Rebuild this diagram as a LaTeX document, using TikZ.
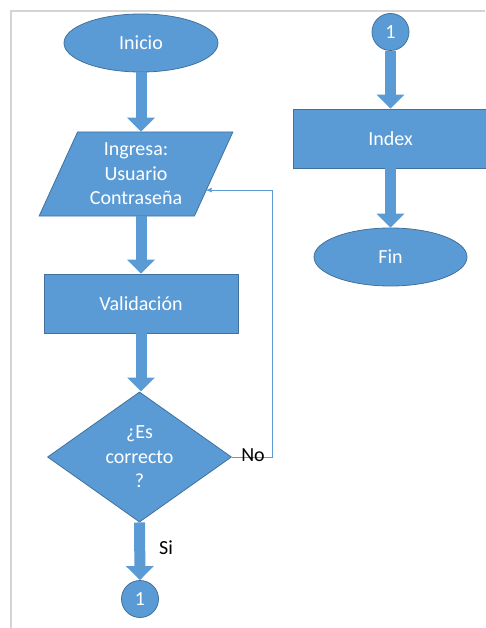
\documentclass[tikz,border=0pt]{standalone}
\usepackage{fontspec}
\setmainfont{Carlito}
\usepackage{tikz}
\usetikzlibrary{arrows,arrows.meta}
\usetikzlibrary{shapes,shapes.geometric}
\usetikzlibrary{positioning}
\usetikzlibrary{calc}
\definecolor{boxblue}{HTML}{5B9BD5}
\definecolor{boxline}{HTML}{41719C}
\definecolor{framegray}{HTML}{D4D4D4}
\tikzset{
    >=stealth',
    shapebase/.style={draw=boxline, fill=boxblue, line width=0.8pt, text=white,
        inner sep=0pt, align=center, font=\fontsize{20}{24.6}\selectfont},
    terminal/.style={shapebase, ellipse, minimum width=154pt, minimum height=58pt},
    process/.style={shapebase, rectangle, minimum width=194pt, minimum height=59pt},
    inout/.style={shapebase, trapezium, trapezium left angle=64, trapezium right angle=116,
        trapezium stretches=true, minimum width=194pt, minimum height=84pt},
    decision/.style={shapebase, diamond, minimum width=184pt, minimum height=129pt},
    connector/.style={shapebase, circle, minimum size=37pt},
    flow/.style={draw=boxblue, line width=11pt, -{Triangle[width=27pt,length=14pt]}},
    backflow/.style={draw=boxblue, line width=0.9pt, ->},
    answer/.style={text=black, inner sep=0pt, font=\fontsize{20}{24}\selectfont},
}

\begin{document}
\begin{tikzpicture}[x=1pt, y=-1pt]
\useasboundingbox (0,0) rectangle (485,628);
% page frame
\draw[framegray, line width=1.5pt] (11,628) -- (11,11) -- (485,11);
% left column
\node[terminal] (inicio) at (141,43) {Inicio};
\node[inout] (ingresa) at (136,174) {Ingresa:\\Usuario\\Contraseña};
\node[process] (valid) at (141,303.5) {Validación};
\node[decision] (correcto) at (139.5,457) {¿Es\\correcto\\?};
\node[connector] (conA) at (140,599) {1};
% right column
\node[connector] (conB) at (390.5,32) {1};
\node[process] (index) at (390.5,138.5) {Index};
\node[terminal, minimum width=153pt] (fin) at (390.5,257) {Fin};
\draw[flow] (inicio.south) -- (inicio.south |- ingresa.north);
\draw[flow] (valid.north |- ingresa.south) -- (valid.north);
\draw[flow] (valid.south) -- (valid.south |- correcto.north);
\draw[flow] (correcto.south) -- (conA.north);
\node[answer] (si) at (166,548) {Si};
\draw[flow] (conB.south) -- (index.north);
\draw[flow] (index.south) -- (fin.north);
% back to input
\coordinate (back) at ($(ingresa.top right corner)!0.69!(ingresa.bottom right corner)$);
\draw[backflow] (correcto.east) -- ++(41,0) |- (back);
\node[answer] (no) at (253,455) {No};
\end{tikzpicture}
\end{document}
